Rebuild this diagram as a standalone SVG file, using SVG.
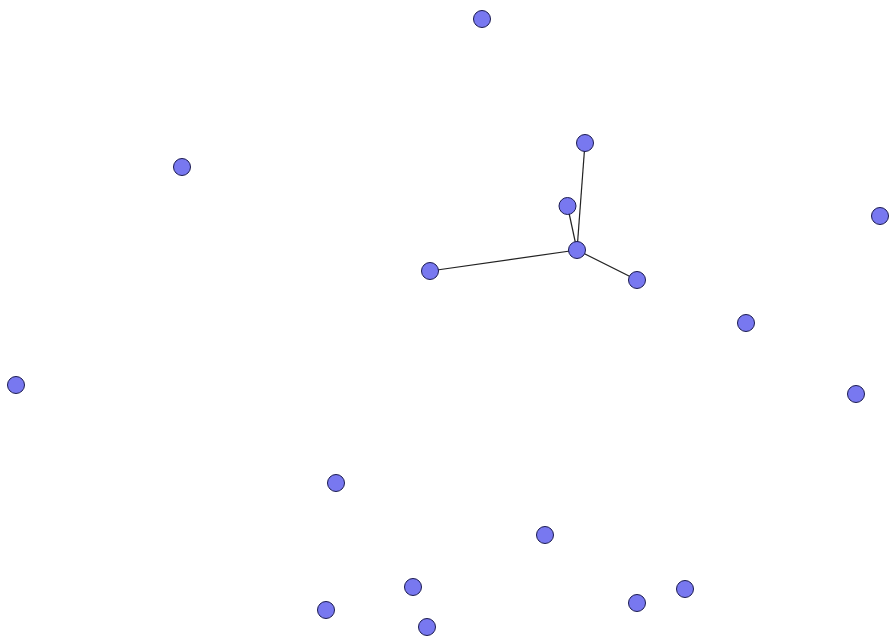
<svg xmlns="http://www.w3.org/2000/svg" width="893" height="640" viewBox="0 0 893 640">
<style>
.n{fill:#7878f0;stroke:#1a1a50;stroke-width:1}
.e{stroke:#222;stroke-width:1.2;fill:none}
</style>
<rect width="893" height="640" fill="#fff"/>
<g id="edges">
<line class="e" x1="577" y1="250" x2="585" y2="143"/>
<line class="e" x1="577" y1="250" x2="567.5" y2="206"/>
<line class="e" x1="577" y1="250" x2="430" y2="271"/>
<line class="e" x1="577" y1="250" x2="637" y2="280"/>
</g>
<g id="n1"><circle class="n" cx="482" cy="19" r="8.5"/></g>
<g id="n2"><circle class="n" cx="585" cy="143" r="8.5"/></g>
<g id="n3"><circle class="n" cx="182" cy="167" r="8.5"/></g>
<g id="n4"><circle class="n" cx="567.5" cy="206" r="8.5"/></g>
<g id="n5"><circle class="n" cx="880" cy="216" r="8.5"/></g>
<g id="n6"><circle class="n" cx="577" cy="250" r="8.5"/></g>
<g id="n7"><circle class="n" cx="430" cy="271" r="8.5"/></g>
<g id="n8"><circle class="n" cx="637" cy="280" r="8.5"/></g>
<g id="n9"><circle class="n" cx="746" cy="323" r="8.5"/></g>
<g id="n10"><circle class="n" cx="16" cy="385" r="8.5"/></g>
<g id="n11"><circle class="n" cx="856" cy="394" r="8.5"/></g>
<g id="n12"><circle class="n" cx="336" cy="483" r="8.5"/></g>
<g id="n13"><circle class="n" cx="545" cy="535" r="8.5"/></g>
<g id="n14"><circle class="n" cx="413" cy="587" r="8.5"/></g>
<g id="n15"><circle class="n" cx="685" cy="589" r="8.5"/></g>
<g id="n16"><circle class="n" cx="637" cy="603" r="8.5"/></g>
<g id="n17"><circle class="n" cx="326" cy="610" r="8.5"/></g>
<g id="n18"><circle class="n" cx="427" cy="627" r="8.5"/></g>
</svg>
